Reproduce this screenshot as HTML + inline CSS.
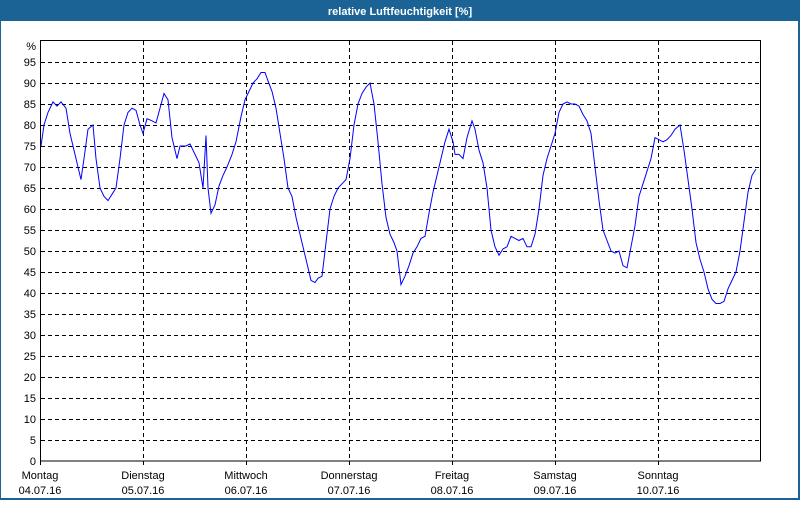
<!DOCTYPE html>
<html><head><meta charset="utf-8"><style>
html,body{margin:0;padding:0;background:#fff}
svg text{font-family:"Liberation Sans",sans-serif;font-size:11px;fill:#000}
</style></head><body>
<svg id="s" width="800" height="500" xmlns="http://www.w3.org/2000/svg" shape-rendering="crispEdges">
<rect x="0" y="0" width="800" height="500" fill="#1c6395"/>
<rect x="1" y="21" width="797" height="477" fill="#fff"/>
<text x="400" y="15" text-anchor="middle" style="fill:#fff;font-weight:bold">relative Luftfeuchtigkeit [%]</text>
<g id="grid"></g>
<rect x="40.5" y="40.5" width="720" height="420.5" fill="none" stroke="#000" stroke-width="1"/>
<polyline id="pl" fill="none" stroke="#0000ff" stroke-width="1" shape-rendering="auto"/>
<text x="36" y="50" text-anchor="end">%</text>
<g id="lab"></g>
</svg>
<script>
var NS="http://www.w3.org/2000/svg",g=document.getElementById('grid'),lab=document.getElementById('lab');
function el(t,a,p,tx){var e=document.createElementNS(NS,t);for(var k in a)e.setAttribute(k,a[k]);if(tx)e.textContent=tx;p.appendChild(e);}
for(var v=5;v<=95;v+=5){var y=Math.round(461-v*4.2)+0.5;el('line',{x1:41,x2:760,y1:y,y2:y,stroke:'#000','stroke-dasharray':'4,3'},g);}
for(var v=0;v<=95;v+=5){var y=Math.round(461-v*4.2);el('text',{x:36,y:y+4,'text-anchor':'end'},lab,String(v));}
var days=[["Montag","04.07.16"],["Dienstag","05.07.16"],["Mittwoch","06.07.16"],["Donnerstag","07.07.16"],["Freitag","08.07.16"],["Samstag","09.07.16"],["Sonntag","10.07.16"]];
for(var i=0;i<7;i++){var x=40+103*i;if(i>0)el('line',{x1:x+0.5,x2:x+0.5,y1:41,y2:461,stroke:'#000','stroke-dasharray':'4,3'},g);
el('line',{x1:x+0.5,x2:x+0.5,y1:461,y2:465,stroke:'#000'},g);
el('text',{x:x,y:479,'text-anchor':'middle'},lab,days[i][0]);el('text',{x:x,y:494,'text-anchor':'middle'},lab,days[i][1]);}
var d=[41,75,44,80,48,83,53,85.5,57,84.5,61,85.5,66,84,70,78,74,74,78,70,81,67,84,72,88,79,93,80,96,72,100,65,104,63,108,62,112,63.5,116,65,120,72,124,80,128,83,132,84,136,83.5,140,80,143,78,147,81.5,152,81,156,80.5,160,84,164,87.5,168,86,172,77,177,72,180,75,186,75,190,75.5,195,73,199,71,203,65,206,77.5,208,65,211,59,215,61,219,65.5,223,68,227,70,232,73,236,76,241,82,245,86,249,88,253,90,257,91,261,92.5,265,92.5,268,90.5,272,88,276,84,280,78,284,72,288,65,292,63,296,58,300,54,304,50,308,46,311,43,315,42.5,318,43.5,322,44,326,52,330,60,334,63,338,65,342,66,346,67,350,72,354,80,358,85,362,87.5,366,89,370,90,374,85,378,76,382,66,386,58,390,54,394,52,397,50,401,42,405,44,409,46.5,413,49.5,417,51,421,53,425,53.5,429,59,433,64,437,68,441,72,445,76,449,79,453,76,455,73,459,73,463,72,467,77,472,81,475,79,479,74,483,71,487,65,491,55,495,51,499,49,503,50.5,507,51,511,53.5,515,53,519,52.5,523,53,527,51,531,51,535,54,539,60,543,68,547,72,551,75,555,78,559,83,563,85,567,85.5,571,85,575,85,579,84.5,583,82.5,587,81,591,78,595,70,599,62,603,55,607,52.5,611,50,615,49.5,619,50,623,46.5,627,46,631,51,635,56,639,63,643,66,647,69,651,72,655,77,659,76.5,663,76,667,76.5,671,77.5,675,79,680,80,684,74,688,67,692,60,696,52,700,48,704,45,708,41,712,38.5,716,37.5,720,37.5,724,38,728,41,732,43,736,45,740,50,744,57,748,64,752,68,756,69.5];
var p=[];for(var i=0;i<d.length;i+=2)p.push(d[i]+','+(461-d[i+1]*4.2).toFixed(1));
document.getElementById('pl').setAttribute('points',p.join(' '));
</script>
</body></html>
